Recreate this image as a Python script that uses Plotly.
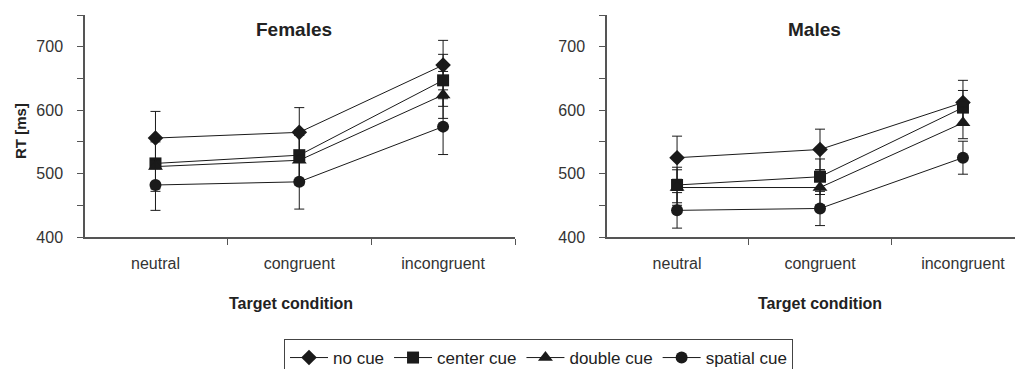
import plotly.graph_objects as go

conditions = ["neutral", "congruent", "incongruent"]
series_names = ["no cue", "center cue", "double cue", "spatial cue"]
symbols = ["diamond", "square", "triangle-up", "circle"]

females_rt = {
    "no cue": [556, 565, 671],
    "center cue": [516, 529, 647],
    "double cue": [511, 521, 624],
    "spatial cue": [482, 487, 574],
}
females_err = {
    "no cue": [42, 39, 39],
    "center cue": [40, 40, 41],
    "double cue": [39, 39, 37],
    "spatial cue": [40, 43, 44],
}
males_rt = {
    "no cue": [525, 538, 612],
    "center cue": [482, 495, 604],
    "double cue": [478, 478, 580],
    "spatial cue": [442, 445, 525],
}
males_err = {
    "no cue": [34, 32, 35],
    "center cue": [28, 28, 27],
    "double cue": [28, 28, 25],
    "spatial cue": [28, 27, 26],
}

FONT = "Liberation Sans, Arial, sans-serif"
INK = "#1a1a1a"
AX = "#555555"
OFF = 8            # page body margin
W, H = 1023 - OFF, 369

fig = go.Figure()
for panel, (rt, err, xa, ya) in enumerate([(females_rt, females_err, "x", "y"),
                                           (males_rt, males_err, "x2", "y2")]):
    for name, sym in zip(series_names, symbols):
        fig.add_trace(go.Scatter(
            x=conditions, y=rt[name], xaxis=xa, yaxis=ya,
            mode="lines+markers", name=name, showlegend=(panel == 0),
            line=dict(color=INK, width=1),
            marker=dict(symbol=sym, size=12 if sym != "triangle-up" else 13, color=INK,
                        line=dict(width=0)),
            error_y=dict(type="data", array=err[name], color=INK, thickness=1, width=5),
        ))

def fx(px):
    return (px - OFF) / W

top, bottom = 15 - OFF, 237 - OFF

def ypaper(py):
    return (bottom - (py - OFF)) / (bottom - top)

yaxis_common = dict(range=[400, 750], tickvals=[400, 500, 600, 700], ticks="outside",
                    ticklen=6, tickcolor=AX, showline=True, linecolor=AX, linewidth=1.5,
                    showgrid=False, zeroline=False, ticklabelstandoff=11,
                    tickfont=dict(family=FONT, size=16, color="#333333"),
                    minor=dict(tickvals=[450, 550, 650, 750], ticks="outside", ticklen=6,
                               tickcolor=AX))
xaxis_common = dict(type="category", tickson="boundaries", ticks="outside", ticklen=6,
                    tickcolor=AX, showline=True, linecolor=AX, linewidth=1.5,
                    showgrid=False, zeroline=False, ticklabelstandoff=11,
                    tickfont=dict(family=FONT, size=16, color="#333333"))

fig.update_layout(
    width=W, height=H,
    margin=dict(l=0, r=0, t=top, b=H - bottom),
    paper_bgcolor="white", plot_bgcolor="white",
    font=dict(family=FONT, color="#222222"),
    xaxis=dict(domain=[fx(85), fx(515)], range=[-0.49, 2.5], anchor="y", **xaxis_common),
    yaxis=dict(domain=[0, 1], anchor="x", **yaxis_common),
    xaxis2=dict(domain=[fx(607), 1.0], range=[-0.49, 2.42], anchor="y2", **xaxis_common),
    yaxis2=dict(domain=[0, 1], anchor="x2", **yaxis_common),
    legend=dict(orientation="h", x=fx(284), xanchor="left", y=ypaper(339),
                yanchor="top", bordercolor="#444444", borderwidth=1,
                font=dict(family=FONT, size=17, color="#222222"), itemwidth=38),
    showlegend=True,
)

annotations = [
    dict(text="<b>Females</b>", x=fx(294), y=ypaper(29), size=19),
    dict(text="<b>Males</b>", x=fx(814), y=ypaper(29), size=19),
    dict(text="<b>Target condition</b>", x=fx(291), y=ypaper(303), size=16),
    dict(text="<b>Target condition</b>", x=fx(820), y=ypaper(303), size=16),
]
for a in annotations:
    fig.add_annotation(text=a["text"], x=a["x"], y=a["y"], xref="paper", yref="paper",
                       showarrow=False, xanchor="center", yanchor="middle",
                       font=dict(family=FONT, size=a["size"], color="#222222"))
fig.add_annotation(text="<b>RT [ms]</b>", x=fx(20), y=ypaper(131), xref="paper", yref="paper",
                   showarrow=False, textangle=-90, xanchor="center", yanchor="middle",
                   font=dict(family=FONT, size=15, color="#222222"))

fig.write_html("out.html")
